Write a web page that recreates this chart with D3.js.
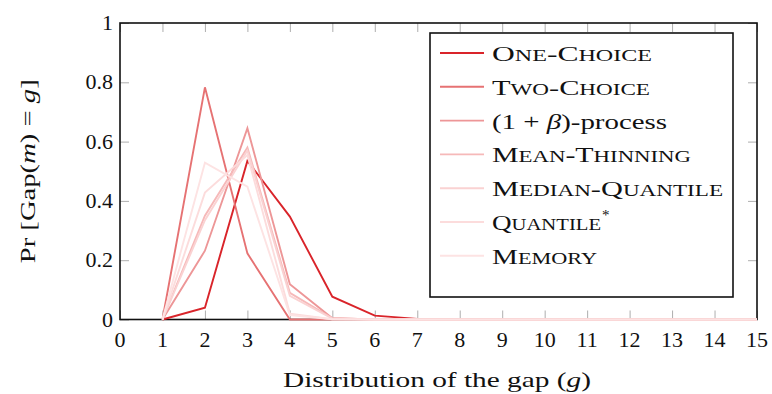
<!DOCTYPE html>
<html>
<head>
<meta charset="utf-8">
<script src="https://cdn.jsdelivr.net/npm/d3@7"></script>
<style>
body { margin:0; background:white; }
text { font-family:"Liberation Serif","DejaVu Serif",serif; fill:#111; }
</style>
</head>
<body>
<svg id="chart"></svg>
<script>
// gap values 1..15
var gaps = [1,2,3,4,5,6,7,8,9,10,11,12,13,14,15]
var seriesNames = ["One-Choice","Two-Choice","(1+β)-process","Mean-Thinning","Median-Quantile","Quantile*","Memory"]
var seriesColors = ["#d9242a","#e67273","#ed9697","#f6b9b9","#fad2d2","#fcdcdc","#fde3e3"]
var oneChoice     = [0,0.040,0.535,0.347,0.077,0.013,0.002,0,0,0,0,0,0,0,0]
var twoChoice     = [0,0.783,0.223,0,0,0,0,0,0,0,0,0,0,0,0]
var onePlusBeta   = [0,0.232,0.645,0.119,0.004,0,0,0,0,0,0,0,0,0,0]
var meanThinning  = [0,0.350,0.580,0.090,0.004,0,0,0,0,0,0,0,0,0,0]
var medianQuant   = [0,0.335,0.570,0.080,0.003,0,0,0,0,0,0,0,0,0,0]
var quantileStar  = [0,0.428,0.555,0.020,0.001,0,0,0,0,0,0,0,0,0,0]
var memory        = [0,0.529,0.448,0.015,0.001,0,0,0,0,0,0,0,0,0,0]
var xTicks = d3.range(0,16)
var yTicks = [0,0.2,0.4,0.6,0.8,1]

var allSeries = [oneChoice,twoChoice,onePlusBeta,meanThinning,medianQuant,quantileStar,memory]

var screen = {width:772, height:394}
var plot = {left:120, right:757, top:23, bottom:319.5}
// widths of the legend labels (computer modern is wide)
var legendTextWidths = [160,158,175,199,231,109,105]

var svg = d3.select("#chart")
    .attr("width",screen.width)
    .attr("height",screen.height)

var xScale = d3.scaleLinear().domain([0,15]).range([plot.left,plot.right])
var yScale = d3.scaleLinear().domain([0,1]).range([plot.bottom,plot.top])

// ticks, inward on all four sides
var tickLen = 9
var axes = svg.append("g")
function styleTicks(g)
{
    g.select(".domain").remove()
    g.selectAll(".tick line").attr("stroke","#999").attr("stroke-width",0.8)
    g.selectAll(".tick text").remove()
}
axes.append("g").attr("transform","translate(0,"+plot.bottom+")")
    .call(d3.axisBottom(xScale).tickValues(xTicks).tickSize(-tickLen)).call(styleTicks)
axes.append("g").attr("transform","translate(0,"+plot.top+")")
    .call(d3.axisTop(xScale).tickValues(xTicks).tickSize(-tickLen)).call(styleTicks)
axes.append("g").attr("transform","translate("+plot.left+",0)")
    .call(d3.axisLeft(yScale).tickValues(yTicks).tickSize(-tickLen)).call(styleTicks)
axes.append("g").attr("transform","translate("+plot.right+",0)")
    .call(d3.axisRight(yScale).tickValues(yTicks).tickSize(-tickLen)).call(styleTicks)

// tick labels
svg.append("g").selectAll("text").data(xTicks).enter().append("text")
    .attr("x",function(d){return xScale(d)})
    .attr("y",plot.bottom+27)
    .attr("text-anchor","middle")
    .style("font-size","22px")
    .text(function(d){return d})
svg.append("g").selectAll("text").data(yTicks).enter().append("text")
    .attr("x",plot.left-7)
    .attr("y",function(d){return yScale(d)+7})
    .attr("text-anchor","end")
    .style("font-size","22px")
    .text(function(d){return d})

// frame
svg.append("rect")
    .attr("x",plot.left).attr("y",plot.top)
    .attr("width",plot.right-plot.left).attr("height",plot.bottom-plot.top)
    .attr("fill","none").attr("stroke","#111").attr("stroke-width",1.6)

// lines
var lineGenerator = d3.line()
    .x(function(v,i){return xScale(gaps[i])})
    .y(function(v){return yScale(v)})

svg.append("g").selectAll("path").data(allSeries).enter().append("path")
    .attr("d",lineGenerator)
    .attr("fill","none")
    .attr("stroke",function(d,i){return seriesColors[i]})
    .attr("stroke-width",1.9)
    .attr("stroke-linejoin","miter")

// axis labels
svg.append("text")
    .attr("x",437)
    .attr("y",387)
    .attr("text-anchor","middle")
    .attr("textLength",308)
    .attr("lengthAdjust","spacingAndGlyphs")
    .style("font-size","21px")
    .html('Distribution of the gap (<tspan font-style="italic">g</tspan>)')

svg.append("text")
    .attr("transform","translate(35,"+((plot.top+plot.bottom)/2)+") rotate(-90)")
    .attr("text-anchor","middle")
    .attr("textLength",184)
    .attr("lengthAdjust","spacingAndGlyphs")
    .style("font-size","21px")
    .html('Pr [Gap(<tspan font-style="italic">m</tspan>) = <tspan font-style="italic">g</tspan>]')

// legend
var legend = {x:430, y:33, w:303, h:264, rowH:33.8, first:53}
var lg = svg.append("g")
lg.append("rect")
    .attr("x",legend.x).attr("y",legend.y)
    .attr("width",legend.w).attr("height",legend.h)
    .attr("fill","white").attr("stroke","#111").attr("stroke-width",1.6)

// fake small caps: lower case letters become smaller capitals
var smallCaps = function(sel,str)
{
    var runs = []
    str.split("").forEach(function(c)
    {
        var small = (c != c.toUpperCase())
        if (runs.length && runs[runs.length-1].small == small)
            runs[runs.length-1].s += c.toUpperCase()
        else
            runs.push({small:small, s:c.toUpperCase()})
    })
    runs.forEach(function(r)
    {
        sel.append("tspan")
            .style("font-size", r.small ? "16px" : "21px")
            .text(r.s)
    })
}

var rows = lg.selectAll("g.row").data(seriesNames).enter().append("g")
    .attr("transform",function(d,i){return "translate(0,"+(legend.first+i*legend.rowH)+")"})
rows.append("line")
    .attr("x1",440).attr("x2",484)
    .attr("y1",0).attr("y2",0)
    .attr("stroke",function(d,i){return seriesColors[i]})
    .attr("stroke-width",1.9)
rows.append("text")
    .attr("x",492).attr("y",8)
    .style("font-size","21px")
    .attr("textLength",function(d,i){return legendTextWidths[i]})
    .attr("lengthAdjust","spacingAndGlyphs")
    .each(function(d)
    {
        var t = d3.select(this)
        if (d=="(1+β)-process")
        {
            t.html('(1 + <tspan font-style="italic">β</tspan>)-process')
        }
        else if (d=="Quantile*")
        {
            smallCaps(t,"Quantile")
            d3.select(this.parentNode).append("text")
                .attr("x",602).attr("y",-2)
                .style("font-size","15px")
                .text("*")
        }
        else
        {
            smallCaps(t,d)
        }
    })
</script>
</body>
</html>
